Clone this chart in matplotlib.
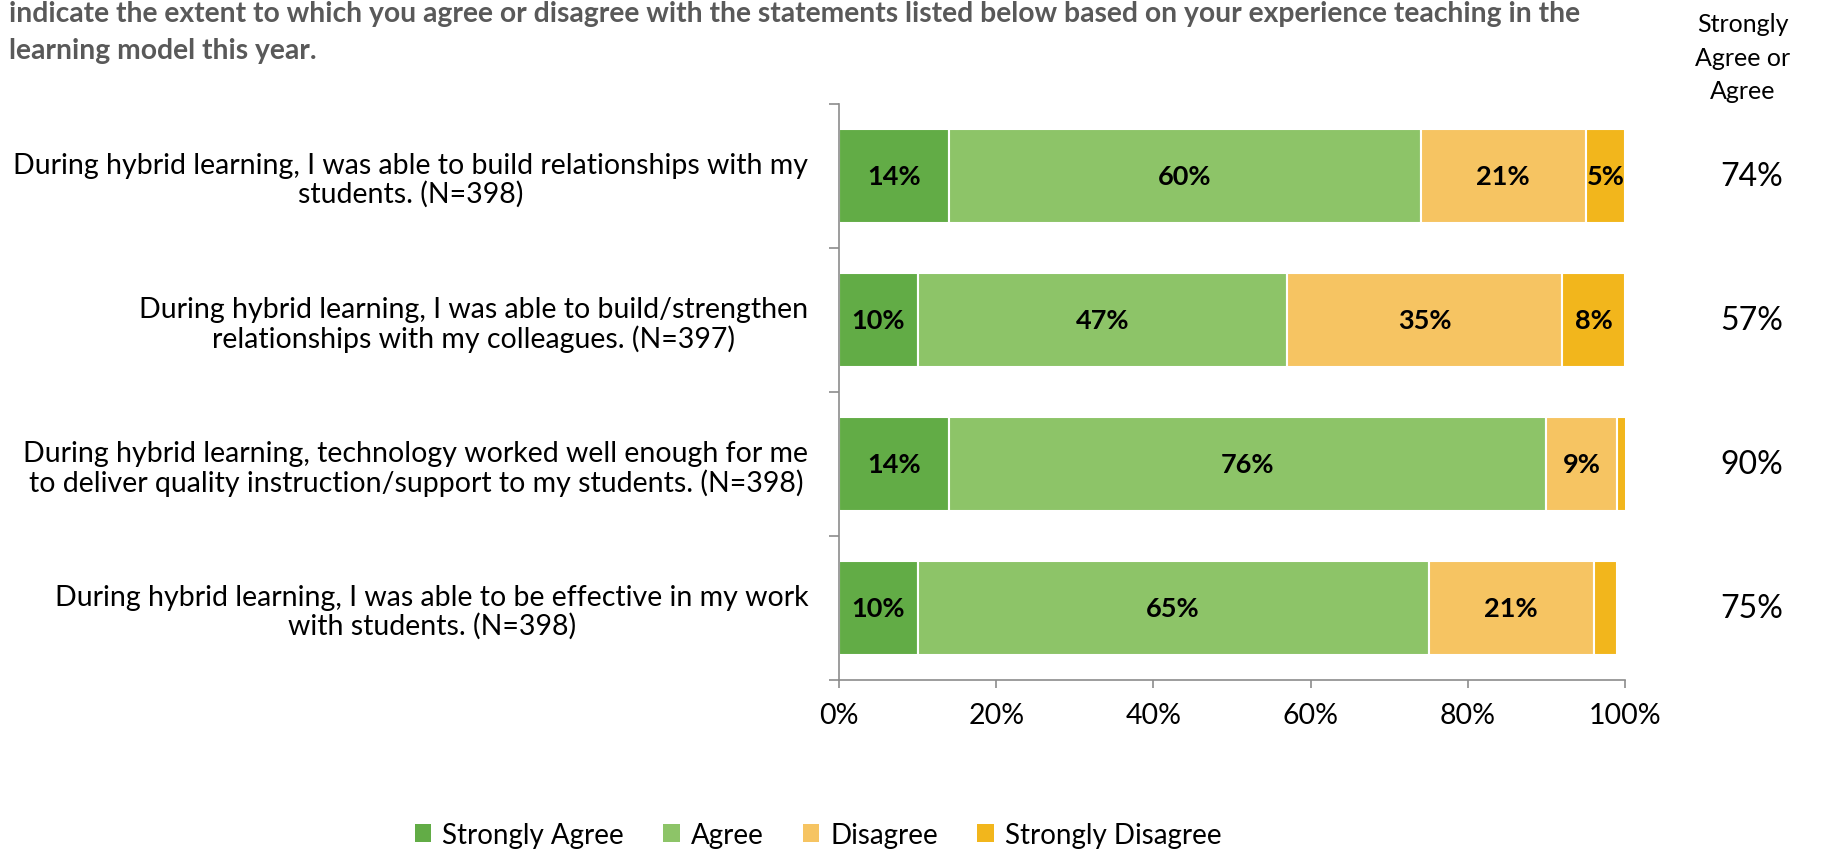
import matplotlib.pyplot as plt
import matplotlib.transforms as mtransforms
from matplotlib.patches import Patch
import numpy as np

plt.rcParams["font.family"] = ["Lato", "DejaVu Sans"]

title_lines = [
    "indicate the extent to which you agree or disagree with the statements listed below based on your experience teaching in the",
    "learning model this year.",
]
statements = [
    "During hybrid learning, I was able to build relationships with my\nstudents. (N=398)",
    "During hybrid learning, I was able to build/strengthen\nrelationships with my colleagues. (N=397)",
    "During hybrid learning, technology worked well enough for me\nto deliver quality instruction/support to my students. (N=398)",
    "During hybrid learning, I was able to be effective in my work\nwith students. (N=398)",
]
levels = ["Strongly Agree", "Agree", "Disagree", "Strongly Disagree"]
strongly_agree = [14, 10, 14, 10]
agree = [60, 47, 76, 65]
disagree = [21, 35, 9, 21]
strongly_disagree = [5, 8, 1.3, 3]
agree_total = ["74%", "57%", "90%", "75%"]

colors = ["#62AC46", "#8DC468", "#F6C462", "#F2B61C"]
axis_gray = "#8C8C8C"

fig = plt.figure(figsize=(18.21, 8.53), dpi=100)
ax = fig.add_axes([839 / 1821, 1 - 681 / 853, 786 / 1821, 576 / 853])

y = np.arange(len(statements))
left = np.zeros(len(statements))
series = [strongly_agree, agree, disagree, strongly_disagree]
for name, vals, color in zip(levels, series, colors):
    vals = np.array(vals, dtype=float)
    bars = ax.barh(y, vals, left=left, height=0.65, color=color,
                   edgecolor="white", linewidth=1.5, label=name)
    for rect, v in zip(bars, vals):
        if v >= 5:
            ax.text(rect.get_x() + rect.get_width() / 2, rect.get_y() + rect.get_height() / 2,
                    f"{v:.0f}%", ha="center", va="center", fontsize=19.5,
                    fontweight="bold", color="black")
    left += vals

ax.set_xlim(0, 100)
ax.set_ylim(len(statements) - 0.5, -0.5)
ax.set_xticks(np.arange(0, 101, 20))
ax.set_xticklabels([f"{t}%" for t in range(0, 101, 20)], fontsize=20.5)
ax.set_yticks(y)
ax.set_yticklabels(statements, fontsize=20.5, multialignment="center", linespacing=1.1)
ax.set_yticks(np.arange(-0.5, len(statements)), minor=True)
ax.tick_params(axis="y", which="major", length=0, pad=22)
ax.tick_params(axis="y", which="minor", length=7, color=axis_gray, width=1.2)
ax.tick_params(axis="x", length=6, color=axis_gray, width=1.2, pad=10)

for side in ["top", "right"]:
    ax.spines[side].set_visible(False)
for side in ["left", "bottom"]:
    ax.spines[side].set_color(axis_gray)
    ax.spines[side].set_linewidth(1.2)

# "Strongly Agree or Agree" column on the right
trans = mtransforms.blended_transform_factory(ax.transAxes, ax.transData)
for yi, txt in zip(y, agree_total):
    ax.text(1.1616, yi, txt, transform=trans, ha="center", va="center", fontsize=23)
fig.text(1743 / 1821, 1 - 58 / 853, "Strongly\nAgree or\nAgree", ha="center", va="center",
         fontsize=18, linespacing=1.55)

# title (cut off in the original)
fig.text(9 / 1821, 1 - 14 / 853, title_lines[0], ha="left", va="center",
         fontsize=20.3, fontweight="bold", color="#595959")
fig.text(9 / 1821, 1 - 51 / 853, title_lines[1], ha="left", va="center",
         fontsize=20.3, fontweight="bold", color="#595959")

handles = [Patch(facecolor=c, label=l) for c, l in zip(colors, levels)]
fig.legend(handles=handles, loc="center", bbox_to_anchor=(818 / 1821, 1 - 836 / 853),
           ncol=4, frameon=False, fontsize=20, handlelength=0.6, handleheight=0.6,
           handletextpad=0.4, columnspacing=1.4)

fig.savefig("out.png", dpi=100)
